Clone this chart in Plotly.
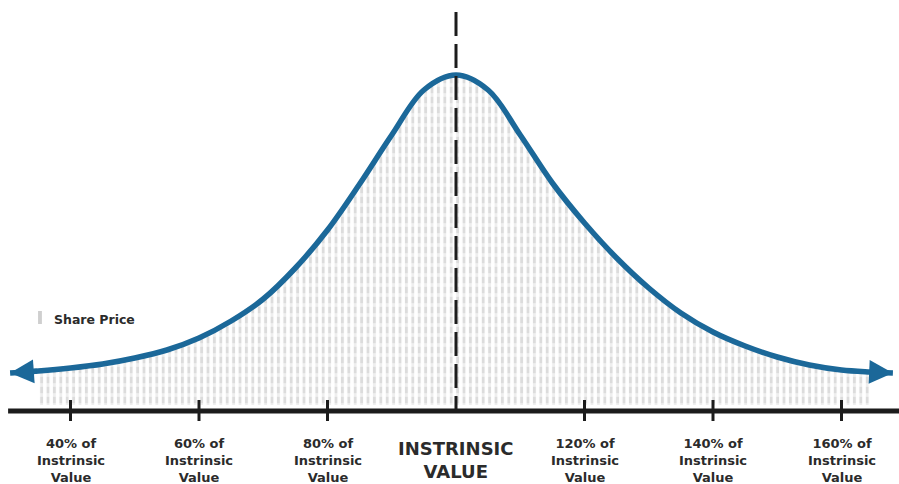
import plotly.graph_objects as go

# ---- data ----
# share price as % of intrinsic value
curve_x = [30.6, 35, 40, 45, 50, 55, 60, 65, 70, 75, 80, 85, 90, 95, 100,
           105, 110, 115, 120, 125, 130, 135, 140, 145, 150, 155, 160, 164.5, 168]
# relative frequency (arbitrary units)
curve_y = [32, 34, 37, 41, 47, 55, 67, 84, 106, 137, 175, 221, 270, 315, 330,
           315, 270, 222, 182, 147, 117, 92, 73, 59, 48, 40, 35, 33, 32]
fill_min, fill_max = 35, 164.5

tick_vals = [40, 60, 80, 120, 140, 160]
tick_text = ["40% of<br>Instrinsic<br>Value", "60% of<br>Instrinsic<br>Value",
             "80% of<br>Instrinsic<br>Value", "120% of<br>Instrinsic<br>Value",
             "140% of<br>Instrinsic<br>Value", "160% of<br>Instrinsic<br>Value"]
center_val = 100
center_text = "INSTRINSIC<br>VALUE"
legend_text = "Share Price"

BLUE = "#1b6899"
DARK = "#1c1c1c"
TXT = "#2b2b2b"
GRAY = "#b9b9b9"

fx = [x for x in curve_x if fill_min <= x <= fill_max]
fy = [y for x, y in zip(curve_x, curve_y) if fill_min <= x <= fill_max]

fig = go.Figure()
# dotted "share price" area: vertical gray stripes ...
fig.add_trace(go.Scatter(
    x=fx, y=fy, mode="lines", line=dict(width=0, shape="spline"),
    fill="tozeroy", fillcolor="rgba(0,0,0,0)",
    fillpattern=dict(shape="|", fgcolor=GRAY, bgcolor="white", size=6.4, solidity=0.45),
    hoverinfo="skip", showlegend=False))
# ... cut into dashes by white horizontal stripes
fig.add_trace(go.Scatter(
    x=fx, y=fy, mode="lines", line=dict(width=0, shape="spline"),
    fill="tozeroy", fillcolor="rgba(0,0,0,0)",
    fillpattern=dict(shape="-", fgcolor="white", bgcolor="rgba(0,0,0,0)", size=10, solidity=0.37),
    hoverinfo="skip", showlegend=False))
# bell curve
fig.add_trace(go.Scatter(
    x=curve_x, y=curve_y, mode="lines",
    line=dict(color=BLUE, width=5.5, shape="spline"),
    hoverinfo="skip", showlegend=False))

# px mapping: 1 y unit = 1 pixel; x: 6.425 px per %
x_lo = 100 - 456 / 6.425
x_hi = 100 + 443 / 6.425

shapes = []
# x axis line
shapes.append(dict(type="line", xref="paper", yref="y", x0=0.009, x1=1, y0=-6, y1=-6,
                   line=dict(color=DARK, width=5), layer="above"))
for v in tick_vals:
    shapes.append(dict(type="line", xref="x", yref="y", x0=v, x1=v, y0=5, y1=-16,
                       line=dict(color=DARK, width=3), layer="above"))
# dashed intrinsic value line
shapes.append(dict(type="line", xref="x", yref="y", x0=center_val, x1=center_val, y0=393, y1=-6,
                   line=dict(color=DARK, width=3, dash="24px,8px"), layer="above"))
# legend swatch
shapes.append(dict(type="rect", xref="x", yref="y", x0=34.95, x1=35.55, y0=81, y1=94,
                   fillcolor="#cfcfcf", line=dict(width=0), layer="above"))

annotations = []
for v, t in zip(tick_vals, tick_text):
    annotations.append(dict(x=v, y=-29, xref="x", yref="y", text=t, showarrow=False,
                            xanchor="center", yanchor="top",
                            font=dict(family="DejaVu Sans", size=13, color=TXT, weight="bold")))
annotations.append(dict(x=center_val, y=-31, xref="x", yref="y", text=center_text, showarrow=False,
                        xanchor="center", yanchor="top",
                        font=dict(family="DejaVu Sans", size=18, color=TXT, weight="bold")))
annotations.append(dict(x=37.1, y=86, xref="x", yref="y", text=legend_text, showarrow=False,
                        xanchor="left", yanchor="middle",
                        font=dict(family="DejaVu Sans", size=12.5, color=TXT, weight="bold")))
# arrow heads at both ends of the curve
annotations.append(dict(x=curve_x[0], y=curve_y[0], ax=curve_x[1], ay=curve_y[1],
                        xref="x", yref="y", axref="x", ayref="y", text="", showarrow=True,
                        arrowhead=2, arrowsize=0.95, arrowwidth=5, arrowcolor=BLUE))
annotations.append(dict(x=curve_x[-1], y=curve_y[-1], ax=curve_x[-2], ay=curve_y[-2],
                        xref="x", yref="y", axref="x", ayref="y", text="", showarrow=True,
                        arrowhead=2, arrowsize=0.95, arrowwidth=5, arrowcolor=BLUE))

fig.update_layout(
    width=899, height=484,
    margin=dict(l=0, r=0, t=0, b=0),
    paper_bgcolor="white", plot_bgcolor="white",
    xaxis=dict(range=[x_lo, x_hi], visible=False, fixedrange=True),
    yaxis=dict(range=[405 - 484, 405], visible=False, fixedrange=True),
    shapes=shapes, annotations=annotations, showlegend=False,
)

fig.write_html("out.html", config={"displayModeBar": False},
               post_script="document.body.style.margin='0px';")
